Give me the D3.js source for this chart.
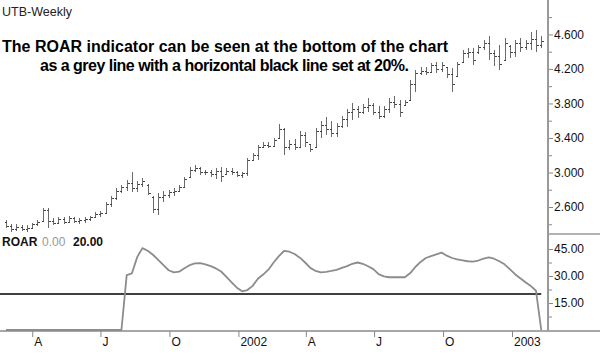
<!DOCTYPE html>
<html><head><meta charset="utf-8">
<script src="https://cdn.jsdelivr.net/npm/d3@7"></script>
<style>
body{margin:0;background:#fff}
svg{display:block}
text{font-family:"Liberation Sans",Arial,Helvetica,sans-serif}
</style>
</head><body><svg id="c" width="600" height="355"></svg>
<script>
// ---- Data (weekly OHLC, UTB) ----
const highs=[2.45,2.40,2.40,2.39,2.39,2.42,2.45,2.59,2.59,2.47,2.48,2.48,2.50,2.48,2.47,2.48,2.50,2.54,2.55,2.66,
2.73,2.82,2.86,2.91,3.01,2.90,2.94,2.87,2.73,2.76,2.79,2.80,2.82,2.86,2.95,3.06,3.09,3.06,3.03,3.03,
3.05,3.06,3.05,3.05,3.02,3.01,3.17,3.23,3.32,3.35,3.35,3.40,3.56,3.52,3.38,3.39,3.48,3.47,3.33,3.52,
3.60,3.64,3.60,3.57,3.65,3.74,3.81,3.77,3.79,3.86,3.81,3.77,3.77,3.86,3.89,3.84,3.84,4.07,4.19,4.22,
4.22,4.27,4.28,4.28,4.22,4.21,4.28,4.42,4.44,4.44,4.48,4.54,4.58,4.42,4.48,4.56,4.48,4.54,4.56,4.54,
4.63,4.65,4.58];
const lows=[2.36,2.31,2.32,2.32,2.31,2.35,2.38,2.44,2.36,2.39,2.42,2.40,2.42,2.42,2.40,2.42,2.44,2.47,2.48,2.52,
2.60,2.68,2.76,2.79,2.77,2.77,2.83,2.74,2.53,2.51,2.66,2.70,2.73,2.77,2.82,2.94,3.01,2.97,2.97,2.95,
2.92,2.89,2.97,2.97,2.95,2.94,2.96,3.13,3.15,3.28,3.28,3.30,3.40,3.20,3.26,3.26,3.28,3.30,3.24,3.30,
3.40,3.43,3.41,3.41,3.52,3.53,3.61,3.63,3.68,3.70,3.67,3.62,3.63,3.69,3.75,3.64,3.77,3.84,3.93,4.13,
4.13,4.15,4.15,4.16,4.10,3.93,4.11,4.28,4.33,4.25,4.37,4.42,4.30,4.23,4.19,4.30,4.33,4.34,4.40,4.42,
4.42,4.40,4.44];
const opens=[2.43,2.38,2.34,2.37,2.35,2.36,2.40,2.44,2.56,2.44,2.42,2.46,2.43,2.47,2.44,2.45,2.46,2.48,2.52,2.53,
2.64,2.70,2.79,2.83,2.88,2.82,2.87,2.85,2.72,2.58,2.72,2.74,2.77,2.79,2.83,2.95,3.03,3.05,3.00,3.01,
2.98,3.02,2.98,3.02,3.00,2.97,2.99,3.15,3.20,3.29,3.32,3.31,3.40,3.50,3.30,3.33,3.30,3.44,3.33,3.30,
3.48,3.55,3.50,3.46,3.54,3.62,3.70,3.74,3.70,3.76,3.78,3.70,3.66,3.74,3.82,3.79,3.78,3.84,4.02,4.15,
4.18,4.16,4.24,4.20,4.22,4.14,4.12,4.28,4.38,4.40,4.40,4.45,4.50,4.38,4.35,4.30,4.47,4.40,4.50,4.45,
4.50,4.55,4.48];
const closes=[2.38,2.34,2.37,2.35,2.36,2.40,2.43,2.56,2.44,2.42,2.46,2.43,2.47,2.44,2.45,2.46,2.48,2.52,2.53,2.64,
2.70,2.79,2.83,2.88,2.82,2.87,2.90,2.76,2.58,2.72,2.74,2.77,2.79,2.83,2.92,3.03,3.05,3.00,3.01,2.98,
3.02,2.96,3.02,3.00,2.97,2.99,3.15,3.20,3.29,3.32,3.31,3.38,3.50,3.30,3.33,3.30,3.44,3.35,3.27,3.48,
3.55,3.50,3.46,3.54,3.62,3.70,3.74,3.70,3.76,3.78,3.70,3.66,3.74,3.82,3.79,3.70,3.82,4.02,4.15,4.18,
4.16,4.24,4.20,4.25,4.14,4.02,4.26,4.38,4.40,4.30,4.45,4.50,4.38,4.35,4.26,4.50,4.40,4.50,4.45,4.50,
4.55,4.48,4.52];
// ROAR indicator values (%)
const roar=[0,0,0,0,0,0,0,0,0,0,0,0,0,0,0,0,0,0,0,0,0,0,0,
30.5,31.5,40.5,45.5,44,41.8,39,36,33.2,32,32.4,34.3,36,37,37.2,36.5,35.5,34.2,32.5,29.5,26.5,23.5,
21.5,22.2,24.5,28.5,30.8,33.5,37.5,41,44,43.5,42.2,40.2,37.5,34.5,32.8,32,32.3,32.8,33.4,34.5,35.5,
36.8,37.5,36.8,35.4,33.8,31,29.8,29.3,29.3,29.3,29.3,31.5,35,37.8,40,41,42,43,41.3,40,39.2,38.7,
38.2,38,38.6,39.6,40.3,39.6,38.2,36.5,33.8,31,28.8,26.5,24.5,21.8,0];
const roarThreshold=20;
const firstWeek=Date.UTC(2001,1,25);
const priceTicks=[2.6,3.0,3.4,3.8,4.2,4.6];
const priceMinorTicks=[2.4,2.8,3.2,3.6,4.0,4.4,4.8];
const roarTicks=[15,30,45];
const roarMinorTicks=[7.5,22.5,37.5];
const xTickDates=[Date.UTC(2001,3,1),Date.UTC(2001,6,1),Date.UTC(2001,9,1),Date.UTC(2002,0,1),
  Date.UTC(2002,3,1),Date.UTC(2002,6,1),Date.UTC(2002,9,1),Date.UTC(2003,0,1)];
const xTickLabels=["A","J","O","2002","A","J","O","2003"];
const chartTitle="UTB-Weekly";
const note1="The ROAR indicator can be seen at the bottom of the chart";
const note2="as a grey line with a horizontal black line set at 20%.";

// ---- Build ----
const dates=highs.map((_,i)=>new Date(firstWeek+i*7*864e5));
const bars=dates.map((d,i)=>({d,h:highs[i],l:lows[i],o:opens[i],c:closes[i],r:roar[i]}));

const svg=d3.select("#c");
const axisX=548;
const x=d3.scaleUtc().domain([new Date(Date.UTC(2001,1,17)),new Date(Date.UTC(2003,1,18))]).range([0,axisX]);
const y=d3.scaleLinear().domain([2.6,4.6]).range([207,34.4]);
const yr=d3.scaleLinear().domain([0,45]).range([330,249]);
const px=v=>Math.round(x(v))+0.5;

// price bars
const gb=svg.append("g").attr("stroke-width",1).attr("shape-rendering","crispEdges");
gb.selectAll("line.hl").data(bars).join("line").attr("class","hl")
  .attr("x1",d=>px(d.d)).attr("x2",d=>px(d.d)).attr("y1",d=>y(d.h)).attr("y2",d=>y(d.l)).attr("stroke","#6a6a6a");
gb.selectAll("line.op").data(bars).join("line").attr("class","op")
  .attr("x1",d=>px(d.d)-2).attr("x2",d=>px(d.d)).attr("y1",d=>Math.round(y(d.o))+0.5).attr("y2",d=>Math.round(y(d.o))+0.5).attr("stroke","#444");
gb.selectAll("line.cl").data(bars).join("line").attr("class","cl")
  .attr("x1",d=>px(d.d)).attr("x2",d=>px(d.d)+2).attr("y1",d=>Math.round(y(d.c))+0.5).attr("y2",d=>Math.round(y(d.c))+0.5).attr("stroke","#444");

// bottom base line
svg.append("line").attr("x1",0).attr("x2",600).attr("y1",331).attr("y2",331).attr("stroke","#8a8a8a").attr("stroke-width",1.5);

// threshold line
svg.append("line").attr("x1",0).attr("x2",x(dates[dates.length-1])).attr("y1",yr(roarThreshold)).attr("y2",yr(roarThreshold))
  .attr("stroke","#000").attr("stroke-width",1.3);

// ROAR line
svg.append("path").datum(bars).attr("fill","none").attr("stroke","#8c8c8c").attr("stroke-width",1.8)
  .attr("stroke-linejoin","round")
  .attr("d",d3.line().x(d=>x(d.d)).y(d=>yr(d.r)));

// right axis line + divider
svg.append("line").attr("x1",axisX).attr("x2",axisX).attr("y1",0).attr("y2",331).attr("stroke","#999").attr("stroke-width",2);
svg.append("line").attr("x1",axisX).attr("x2",600).attr("y1",234).attr("y2",234).attr("stroke","#999").attr("stroke-width",1.5);

function styleAxis(g){
  g.select(".domain").remove();
  g.selectAll(".tick line").attr("stroke","#888");
  g.selectAll(".tick text").attr("fill","#111").attr("font-size",12).attr("font-family","Liberation Sans, Arial, sans-serif");
}
svg.append("g").attr("transform",`translate(${axisX+1},0)`)
  .call(d3.axisRight(y).tickValues(priceMinorTicks).tickSize(3).tickFormat(""))
  .call(styleAxis);
svg.append("g").attr("transform",`translate(${axisX+1},0)`)
  .call(d3.axisRight(y).tickValues(priceTicks).tickSize(4).tickPadding(1).tickFormat(d3.format(".3f")))
  .call(styleAxis);
svg.append("g").attr("transform",`translate(${axisX+1},0)`)
  .call(d3.axisRight(yr).tickValues(roarMinorTicks).tickSize(3).tickFormat(""))
  .call(styleAxis);
svg.append("g").attr("transform",`translate(${axisX+1},0)`)
  .call(d3.axisRight(yr).tickValues(roarTicks).tickSize(4).tickPadding(1).tickFormat(d3.format(".2f")))
  .call(styleAxis);

// x axis
const gx=svg.append("g").attr("transform","translate(0,331)")
  .call(d3.axisBottom(x).tickValues(xTickDates.map(t=>new Date(t))).tickSize(6).tickFormat((d,i)=>xTickLabels[i]))
  .call(styleAxis);
gx.selectAll(".tick text").attr("text-anchor","start").attr("x",1.5).attr("y",15).attr("dy",0);

// texts
svg.append("text").attr("x",2).attr("y",16).attr("font-size",12.5).attr("fill","#222").text(chartTitle);
svg.append("text").attr("x",2).attr("y",51.5).attr("font-size",16).attr("font-weight","bold").attr("fill","#000")
  .attr("textLength",446).attr("lengthAdjust","spacing").text(note1);
svg.append("text").attr("x",40).attr("y",70.5).attr("font-size",16).attr("font-weight","bold").attr("fill","#000")
  .attr("textLength",369).attr("lengthAdjust","spacing").text(note2);
svg.append("text").attr("x",2).attr("y",245.5).attr("font-size",12).attr("font-weight","bold").attr("fill","#111").text("ROAR");
svg.append("text").attr("x",42).attr("y",245.5).attr("font-size",12).attr("fill","#999").text(d3.format(".2f")(roar[roar.length-1]));
svg.append("text").attr("x",73).attr("y",245.5).attr("font-size",12).attr("font-weight","bold").attr("fill","#111").text(d3.format(".2f")(roarThreshold));
</script></body></html>
